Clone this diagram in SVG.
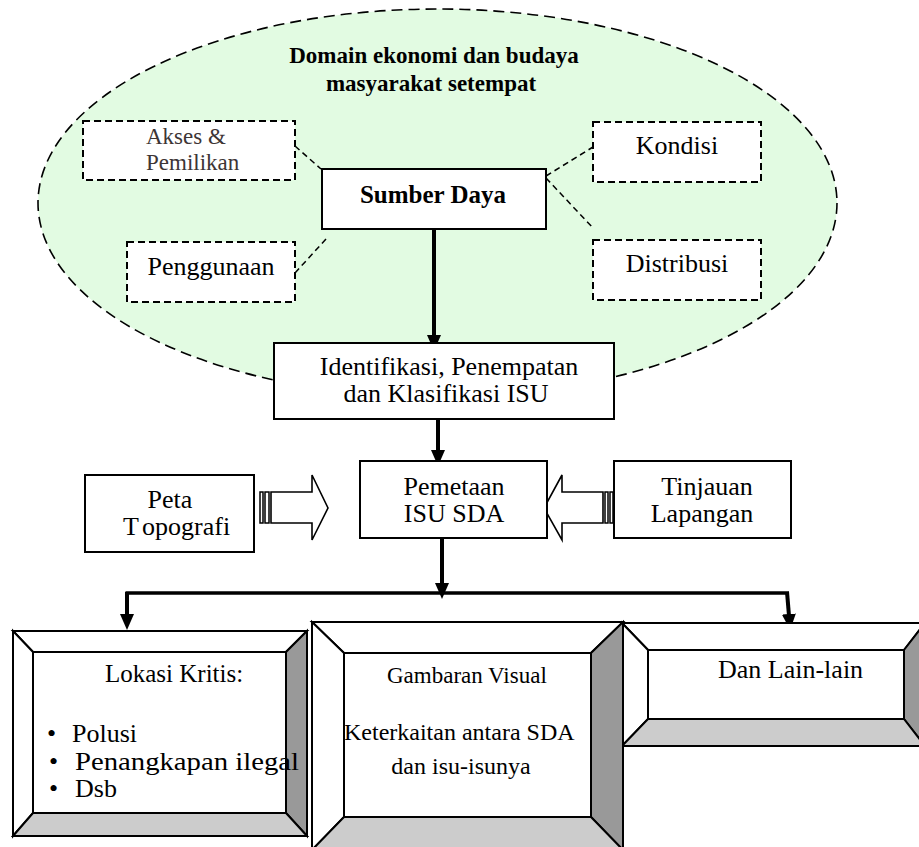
<svg xmlns="http://www.w3.org/2000/svg" width="919" height="847" viewBox="0 0 919 847">
<defs>
<style>
text{font-family:"Liberation Serif","Times New Roman",serif;fill:#000}
.t26{font-size:26px}
.t24{font-size:24px}
.t23{font-size:23px}
.bold{font-weight:bold}
.dash{fill:#fff;stroke:#000;stroke-width:2;stroke-dasharray:7 4}
.box{fill:#fff;stroke:#000;stroke-width:2}
.dline{fill:none;stroke:#000;stroke-width:1.5;stroke-dasharray:6 4}
.arr{fill:none;stroke:#000;stroke-width:4;marker-end:url(#ah)}
.bev{stroke:#000;stroke-width:2;stroke-linejoin:miter}
.w{fill:#fff}
.dk{fill:#999}
.lt{fill:#ccc}
.blk{fill:#fff;stroke:#000;stroke-width:1.6;stroke-linejoin:miter}
.grey{fill:#3d3535}
</style>
<marker id="ah" viewBox="0 0 16 14" markerWidth="16" markerHeight="14" markerUnits="userSpaceOnUse" refX="4" refY="7" orient="auto">
<path d="M0,0 L16,7 L0,14 z" fill="#000"/>
</marker>
</defs>

<g id="domain">
<ellipse cx="437.5" cy="203" rx="399.5" ry="194" fill="#e2fbe2" stroke="#000" stroke-width="1.6" stroke-dasharray="11 6"/>
<text class="t23 bold" x="434" y="63" text-anchor="middle">Domain ekonomi dan budaya</text>
<text class="t23 bold" x="431" y="91" text-anchor="middle">masyarakat setempat</text>
</g>

<g id="connectors">
<line class="dline" x1="295" y1="146" x2="321" y2="169"/>
<line class="dline" x1="295" y1="273" x2="326" y2="239"/>
<line class="dline" x1="546" y1="176" x2="593" y2="147"/>
<line class="dline" x1="546" y1="178" x2="593" y2="228"/>
<line class="arr" x1="434" y1="229" x2="434" y2="339"/>
<line class="arr" x1="438" y1="419" x2="438" y2="454"/>
<line class="arr" x1="442" y1="533" x2="442" y2="587"/>
<line x1="125.5" y1="593" x2="789" y2="593" stroke="#000" stroke-width="3.5"/>
<line class="arr" stroke-width="3.5" x1="127" y1="592" x2="127" y2="618"/>
<line class="arr" stroke-width="3.5" x1="787" y1="592" x2="789.2" y2="618"/>
<g id="arrow-peta">
<polygon class="blk" points="271,492 312,492 312,475 328,508 312,540 312,523 271,523"/>
<rect x="260" y="492" width="3" height="31" fill="#fff" stroke="#000" stroke-width="1.5"/>
<rect x="265" y="492" width="4" height="31" fill="#fff" stroke="#000" stroke-width="1.5"/>
</g>
<g id="arrow-tinjauan">
<polygon class="blk" points="603,492 562,492 562,475 544,508 562,540 562,523 603,523"/>
<rect x="605" y="492" width="3" height="31" fill="#fff" stroke="#000" stroke-width="1.5"/>
<rect x="610" y="492" width="3" height="31" fill="#fff" stroke="#000" stroke-width="1.5"/>
</g>
</g>

<g id="akses">
<rect class="dash" x="83" y="121" width="212" height="59"/>
<text class="grey" font-size="23" x="146" y="144">Akses &amp;</text>
<text class="grey" font-size="23" x="146" y="170">Pemilikan</text>
</g>
<g id="penggunaan">
<rect class="dash" x="127" y="242" width="168" height="60"/>
<text class="t26" x="211" y="275" text-anchor="middle">Penggunaan</text>
</g>
<g id="kondisi">
<rect class="dash" x="593" y="122" width="168" height="60"/>
<text class="t26" x="677" y="154" text-anchor="middle">Kondisi</text>
</g>
<g id="distribusi">
<rect class="dash" x="593" y="240" width="168" height="60"/>
<text class="t26" x="677" y="272" text-anchor="middle">Distribusi</text>
</g>
<g id="sumber-daya">
<rect class="box" x="322" y="169" width="224" height="60" stroke-width="2.4"/>
<text class="bold" font-size="25" x="433" y="203" text-anchor="middle">Sumber Daya</text>
</g>

<g id="identifikasi">
<rect class="box" x="274" y="343" width="340" height="76"/>
<text class="t26" x="449" y="375" text-anchor="middle">Identifikasi, Penempatan</text>
<text class="t26" x="446" y="402" text-anchor="middle">dan Klasifikasi ISU</text>
</g>
<g id="pemetaan">
<rect class="box" x="360" y="461" width="187" height="77"/>
<text class="t26" x="454" y="495" text-anchor="middle">Pemetaan</text>
<text class="t26" x="454" y="522" text-anchor="middle">ISU SDA</text>
</g>
<g id="peta">
<rect class="box" x="85" y="475" width="169" height="77"/>
<text class="t26" x="170" y="508" text-anchor="middle">Peta</text>
<text class="t26" x="123" y="535">T<tspan dx="5">opografi</tspan></text>
</g>
<g id="tinjauan">
<rect class="box" x="614" y="461" width="177" height="77"/>
<text class="t26" x="707" y="495" text-anchor="middle">Tinjauan</text>
<text class="t26" x="702" y="522" text-anchor="middle">Lapangan</text>
</g>

<g id="lokasi">
<g class="bev">
<polygon class="w" points="13,631 307,631 286,652 33,652"/>
<polygon class="w" points="13,631 33,652 33,813 13,836"/>
<polygon class="dk" points="307,631 307,836 286,813 286,652"/>
<polygon class="lt" points="13,836 33,813 286,813 307,836"/>
<rect class="w" x="33" y="652" width="253" height="161"/>
</g>
<text font-size="25" x="105" y="682">Lokasi Kritis:</text>
<text class="t26" x="47" y="742">•</text>
<text class="t26" x="72" y="742">Polusi</text>
<text class="t26" x="49" y="770">•</text>
<text class="t26" x="75" y="770" textLength="224" lengthAdjust="spacingAndGlyphs">Penangkapan ilegal</text>
<text class="t26" x="49" y="797">•</text>
<text class="t26" x="75" y="797">Dsb</text>
</g>

<g id="lain-lain">
<g class="bev">
<polygon class="w" points="622,623 925,623 904,650 648,650"/>
<polygon class="w" points="622,623 648,650 648,719 622,746"/>
<polygon class="dk" points="925,623 925,746 904,719 904,650"/>
<polygon class="lt" points="622,746 648,719 904,719 925,746"/>
<rect class="w" x="648" y="650" width="256" height="69"/>
</g>
<text class="t26" x="718" y="678">Dan Lain-lain</text>
</g>

<g id="gambaran">
<g class="bev">
<polygon class="w" points="312,622 623,622 591,653 344,653"/>
<polygon class="w" points="312,622 344,653 344,817 312,850"/>
<polygon class="dk" points="623,622 623,850 591,817 591,653"/>
<polygon class="lt" points="312,850 344,817 591,817 623,850"/>
<rect class="w" x="344" y="653" width="247" height="164"/>
</g>
<text class="t23" x="387" y="683">Gambaran Visual</text>
<text class="t24" x="344" y="740">Keterkaitan antara SDA</text>
<text class="t24" x="461" y="774" text-anchor="middle">dan isu-isunya</text>
</g>
</svg>
